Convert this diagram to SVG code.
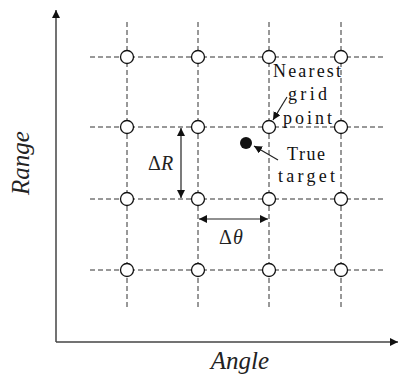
<svg xmlns="http://www.w3.org/2000/svg" width="400" height="379" viewBox="0 0 400 379">
<style>
.grid{stroke:#333;stroke-width:1;stroke-dasharray:5 3;fill:none}
.axis{stroke:#444;stroke-width:1.5;fill:none}
.arr{stroke:#222;stroke-width:1.2;fill:none}
.pt{fill:#fff;stroke:#111;stroke-width:1.3}
.lbl{font-family:"Liberation Serif",serif;font-size:18px;fill:#111}
.ax{font-family:"Liberation Serif",serif;font-style:italic;font-size:25px;fill:#222;text-anchor:middle}
.d{font-family:"Liberation Serif",serif;font-size:20px;fill:#222}
</style>
<defs>
<marker id="ah" viewBox="0 0 10 10" refX="10" refY="5" markerWidth="8" markerHeight="8" markerUnits="userSpaceOnUse" orient="auto-start-reverse"><path d="M0,0 L10,5 L0,10 z" fill="#111"/></marker>
</defs>
<g id="axes">
<line class="axis" x1="56" y1="342" x2="56" y2="10" marker-end="url(#ah)"/>
<line class="axis" x1="56" y1="342" x2="398" y2="342" marker-end="url(#ah)"/>
<text class="ax" x="240" y="369">Angle</text>
<text class="ax" transform="translate(29,163) rotate(-90)">Range</text>
</g>
<g id="gridlines">
<line class="grid" x1="90" y1="57" x2="383" y2="57"/>
<line class="grid" x1="90" y1="127" x2="383" y2="127"/>
<line class="grid" x1="90" y1="199" x2="383" y2="199"/>
<line class="grid" x1="90" y1="270" x2="383" y2="270"/>
<line class="grid" x1="127" y1="22" x2="127" y2="310"/>
<line class="grid" x1="198" y1="22" x2="198" y2="310"/>
<line class="grid" x1="269" y1="22" x2="269" y2="310"/>
<line class="grid" x1="341" y1="22" x2="341" y2="310"/>
</g>
<g id="points">
<circle class="pt" cx="127" cy="57" r="6.5"/><circle class="pt" cx="198" cy="57" r="6.5"/><circle class="pt" cx="269" cy="57" r="6.5"/><circle class="pt" cx="341" cy="57" r="6.5"/>
<circle class="pt" cx="127" cy="127" r="6.5"/><circle class="pt" cx="198" cy="127" r="6.5"/><circle class="pt" cx="269" cy="127" r="6.5"/><circle class="pt" cx="341" cy="127" r="6.5"/>
<circle class="pt" cx="127" cy="199" r="6.5"/><circle class="pt" cx="198" cy="199" r="6.5"/><circle class="pt" cx="269" cy="199" r="6.5"/><circle class="pt" cx="341" cy="199" r="6.5"/>
<circle class="pt" cx="127" cy="270" r="6.5"/><circle class="pt" cx="198" cy="270" r="6.5"/><circle class="pt" cx="269" cy="270" r="6.5"/><circle class="pt" cx="341" cy="270" r="6.5"/>
</g>
<g id="target">
<circle cx="246" cy="143" r="6" fill="#111"/>
</g>
<g id="connectors">
<line class="arr" x1="181" y1="128" x2="181" y2="198" marker-start="url(#ah)" marker-end="url(#ah)"/>
<line class="arr" x1="199" y1="219" x2="268" y2="219" marker-start="url(#ah)" marker-end="url(#ah)"/>
<line class="arr" x1="287" y1="97" x2="273" y2="120" marker-end="url(#ah)"/>
<line class="arr" x1="278" y1="160" x2="254" y2="146" marker-end="url(#ah)"/>
</g>
<g id="labels">
<text class="d" x="148" y="170">Δ<tspan font-style="italic">R</tspan></text>
<text class="d" x="219" y="244">Δ<tspan font-style="italic" dx="1">θ</tspan></text>
<text class="lbl" x="273" y="77" textLength="68" lengthAdjust="spacing">Nearest</text>
<text class="lbl" x="288" y="100" textLength="39" lengthAdjust="spacing">grid</text>
<text class="lbl" x="283" y="124" textLength="49" lengthAdjust="spacing">point</text>
<text class="lbl" x="287" y="160" textLength="38" lengthAdjust="spacing">True</text>
<text class="lbl" x="278" y="182" textLength="57" lengthAdjust="spacing">target</text>
</g>
</svg>
